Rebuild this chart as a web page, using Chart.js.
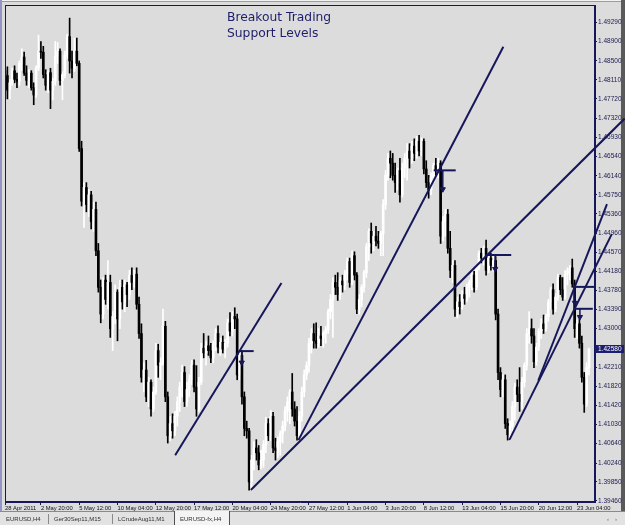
<!DOCTYPE html>
<html>
<head>
<meta charset="utf-8">
<script src="https://cdn.jsdelivr.net/npm/chart.js@4.4.1/dist/chart.umd.min.js"></script>
<style>
html, body { margin: 0; padding: 0; background: #dcdcdc; }
canvas { display: block; }
</style>
</head>
<body>
<canvas id="myChart" width="625" height="525"></canvas>
<script>
// EURUSD-fx H4 candles, bar 1 is the first visible bar (28 Apr 2011)
const opens = [
  1.4830,1.4820,1.4790,1.4805,1.4830,1.4812,1.4808,1.4845,1.4858,1.4825,
  1.4810,1.4825,1.4795,1.4780,1.4835,1.4870,1.4868,1.4822,1.4800,1.4826,
  1.4790,1.4808,1.4860,1.4870,1.4810,1.4822,1.4862,1.4900,1.4850,1.4835,
  1.4870,1.4845,1.4670,1.4562,1.4590,1.4555,1.4575,1.4520,1.4545,1.4460,
  1.4385,1.4330,1.4400,1.4360,1.4395,1.4300,1.4325,1.4375,1.4320,1.4385,
  1.4355,1.4390,1.4370,1.4410,1.4395,1.4412,1.4350,1.4290,1.4200,1.4215,
  1.4160,1.4190,1.4135,1.4170,1.4255,1.4225,1.4230,1.4305,1.4160,1.4080,
  1.4105,1.4090,1.4120,1.4150,1.4180,1.4210,1.4150,1.4175,1.4195,1.4225,
  1.4180,1.4135,1.4190,1.4260,1.4250,1.4265,1.4255,1.4240,1.4268,1.4290,
  1.4262,1.4272,1.4258,1.4270,1.4312,1.4295,1.4325,1.4320,1.4205,1.4245,
  1.4160,1.4095,1.4090,1.3985,1.4030,1.4055,1.4045,1.4020,1.4030,1.4062,
  1.4105,1.4080,1.4120,1.4055,1.4050,1.4068,1.4085,1.4100,1.4130,1.4150,
  1.4170,1.4135,1.4110,1.4080,1.4120,1.4170,1.4205,1.4225,1.4270,1.4290,
  1.4275,1.4270,1.4285,1.4280,1.4290,1.4298,1.4335,1.4360,1.4395,1.4385,
  1.4370,1.4398,1.4390,1.4412,1.4438,1.4395,1.4450,1.4410,1.4340,1.4360,
  1.4385,1.4415,1.4468,1.4500,1.4476,1.4490,1.4480,1.4475,1.4495,1.4555,
  1.4615,1.4650,1.4640,1.4615,1.4600,1.4625,1.4575,1.4630,1.4650,1.4665,
  1.4650,1.4675,1.4660,1.4685,1.4665,1.4685,1.4628,1.4600,1.4585,1.4610,
  1.4635,1.4625,1.4640,1.4490,1.4520,1.4535,1.4465,1.4420,1.4430,1.4340,
  1.4355,1.4345,1.4370,1.4362,1.4385,1.4395,1.4410,1.4385,1.4425,1.4455,
  1.4445,1.4465,1.4420,1.4445,1.4430,1.4440,1.4330,1.4210,1.4175,1.4195,
  1.4105,1.4082,1.4100,1.4140,1.4180,1.4165,1.4150,1.4190,1.4225,1.4290,
  1.4300,1.4285,1.4232,1.4262,1.4295,1.4310,1.4300,1.4325,1.4355,1.4380,
  1.4340,1.4365,1.4405,1.4380,1.4365,1.4412,1.4418,1.4425,1.4392,1.4300,
  1.4310,1.4270,1.4200,1.4145,1.4220
];
const highs = [
  1.4845,1.4838,1.4812,1.4835,1.4840,1.4825,1.4850,1.4875,1.4868,1.4840,
  1.4832,1.4830,1.4805,1.4840,1.4903,1.4890,1.4880,1.4832,1.4830,1.4835,
  1.4815,1.4890,1.4888,1.4875,1.4828,1.4870,1.4905,1.4938,1.4870,1.4897,
  1.4897,1.4850,1.4685,1.4600,1.4600,1.4586,1.4582,1.4560,1.4560,1.4475,
  1.4400,1.4405,1.4410,1.4440,1.4410,1.4335,1.4390,1.4380,1.4400,1.4400,
  1.4400,1.4395,1.4420,1.4425,1.4420,1.4425,1.4365,1.4310,1.4230,1.4235,
  1.4200,1.4195,1.4180,1.4270,1.4268,1.4240,1.4340,1.4315,1.4170,1.4120,
  1.4125,1.4130,1.4160,1.4190,1.4225,1.4222,1.4190,1.4205,1.4235,1.4236,
  1.4224,1.4200,1.4270,1.4290,1.4275,1.4285,1.4270,1.4275,1.4300,1.4306,
  1.4280,1.4285,1.4278,1.4320,1.4333,1.4335,1.4343,1.4330,1.4260,1.4255,
  1.4170,1.4110,1.4095,1.4040,1.4068,1.4072,1.4060,1.4050,1.4070,1.4118,
  1.4115,1.4132,1.4128,1.4075,1.4078,1.4090,1.4110,1.4140,1.4160,1.4175,
  1.4208,1.4150,1.4140,1.4130,1.4180,1.4215,1.4232,1.4280,1.4300,1.4310,
  1.4312,1.4300,1.4305,1.4295,1.4305,1.4340,1.4370,1.4405,1.4410,1.4415,
  1.4405,1.4410,1.4420,1.4445,1.4445,1.4460,1.4458,1.4415,1.4370,1.4390,
  1.4420,1.4475,1.4505,1.4517,1.4500,1.4510,1.4500,1.4500,1.4565,1.4625,
  1.4660,1.4665,1.4660,1.4640,1.4630,1.4650,1.4640,1.4660,1.4680,1.4680,
  1.4685,1.4690,1.4695,1.4697,1.4692,1.4690,1.4645,1.4615,1.4620,1.4640,
  1.4650,1.4650,1.4645,1.4530,1.4545,1.4545,1.4500,1.4440,1.4440,1.4365,
  1.4370,1.4378,1.4385,1.4392,1.4400,1.4418,1.4418,1.4430,1.4460,1.4465,
  1.4470,1.4482,1.4455,1.4455,1.4450,1.4448,1.4340,1.4220,1.4205,1.4205,
  1.4115,1.4110,1.4150,1.4188,1.4195,1.4220,1.4200,1.4230,1.4300,1.4335,
  1.4320,1.4300,1.4270,1.4300,1.4320,1.4328,1.4330,1.4360,1.4385,1.4392,
  1.4372,1.4412,1.4410,1.4405,1.4420,1.4425,1.4430,1.4443,1.4400,1.4318,
  1.4320,1.4285,1.4210,1.4230,1.4260
];
const lows = [
  1.4790,1.4772,1.4772,1.4800,1.4805,1.4795,1.4800,1.4830,1.4820,1.4800,
  1.4795,1.4790,1.4760,1.4775,1.4830,1.4855,1.4815,1.4790,1.4785,1.4752,
  1.4770,1.4800,1.4845,1.4800,1.4770,1.4815,1.4855,1.4825,1.4815,1.4828,
  1.4840,1.4664,1.4552,1.4508,1.4540,1.4530,1.4505,1.4500,1.4450,1.4375,
  1.4312,1.4320,1.4350,1.4340,1.4282,1.4255,1.4310,1.4275,1.4300,1.4340,
  1.4335,1.4345,1.4360,1.4380,1.4385,1.4340,1.4280,1.4190,1.4170,1.4150,
  1.4140,1.4120,1.4130,1.4165,1.4200,1.4195,1.4225,1.4150,1.4065,1.4070,
  1.4075,1.4080,1.4100,1.4130,1.4160,1.4140,1.4140,1.4160,1.4185,1.4170,
  1.4120,1.4130,1.4185,1.4240,1.4225,1.4245,1.4230,1.4230,1.4255,1.4250,
  1.4245,1.4250,1.4240,1.4262,1.4285,1.4285,1.4300,1.4195,1.4195,1.4145,
  1.4080,1.4075,1.3968,1.3968,1.4010,1.4030,1.4010,1.4012,1.4015,1.4045,
  1.4070,1.4070,1.4045,1.4030,1.4035,1.4040,1.4065,1.4090,1.4110,1.4105,
  1.4120,1.4100,1.4071,1.4072,1.4110,1.4160,1.4195,1.4210,1.4250,1.4260,
  1.4260,1.4262,1.4265,1.4262,1.4270,1.4290,1.4320,1.4282,1.4370,1.4358,
  1.4360,1.4375,1.4380,1.4400,1.4385,1.4390,1.4400,1.4331,1.4330,1.4345,
  1.4375,1.4405,1.4440,1.4455,1.4460,1.4470,1.4465,1.4450,1.4450,1.4545,
  1.4605,1.4610,1.4605,1.4580,1.4585,1.4560,1.4570,1.4610,1.4605,1.4630,
  1.4640,1.4645,1.4650,1.4655,1.4655,1.4618,1.4590,1.4568,1.4575,1.4600,
  1.4615,1.4610,1.4475,1.4480,1.4490,1.4455,1.4405,1.4395,1.4325,1.4322,
  1.4330,1.4340,1.4350,1.4355,1.4365,1.4380,1.4375,1.4380,1.4420,1.4435,
  1.4430,1.4410,1.4415,1.4420,1.4418,1.4318,1.4195,1.4160,1.4160,1.4095,
  1.4071,1.4070,1.4090,1.4112,1.4150,1.4130,1.4135,1.4180,1.4215,1.4270,
  1.4270,1.4220,1.4225,1.4255,1.4280,1.4290,1.4295,1.4315,1.4340,1.4330,
  1.4335,1.4358,1.4370,1.4358,1.4360,1.4390,1.4400,1.4385,1.4282,1.4280,
  1.4260,1.4190,1.4128,1.4140,1.4205
];
const closes = [
  1.4820,1.4790,1.4805,1.4830,1.4812,1.4808,1.4845,1.4858,1.4825,1.4810,
  1.4825,1.4795,1.4780,1.4835,1.4870,1.4868,1.4822,1.4800,1.4826,1.4790,
  1.4808,1.4860,1.4870,1.4810,1.4822,1.4862,1.4900,1.4850,1.4835,1.4870,
  1.4845,1.4670,1.4562,1.4590,1.4555,1.4575,1.4520,1.4545,1.4460,1.4385,
  1.4330,1.4400,1.4360,1.4395,1.4300,1.4325,1.4375,1.4320,1.4385,1.4355,
  1.4390,1.4370,1.4410,1.4395,1.4412,1.4350,1.4290,1.4200,1.4215,1.4160,
  1.4190,1.4135,1.4170,1.4255,1.4225,1.4230,1.4305,1.4160,1.4080,1.4105,
  1.4090,1.4120,1.4150,1.4180,1.4210,1.4150,1.4175,1.4195,1.4225,1.4180,
  1.4135,1.4190,1.4260,1.4250,1.4265,1.4255,1.4240,1.4268,1.4290,1.4262,
  1.4272,1.4258,1.4270,1.4312,1.4295,1.4325,1.4320,1.4205,1.4245,1.4160,
  1.4095,1.4090,1.3985,1.4030,1.4055,1.4045,1.4020,1.4030,1.4062,1.4105,
  1.4080,1.4120,1.4055,1.4050,1.4068,1.4085,1.4100,1.4130,1.4150,1.4170,
  1.4135,1.4110,1.4080,1.4120,1.4170,1.4205,1.4225,1.4270,1.4290,1.4275,
  1.4270,1.4285,1.4280,1.4290,1.4298,1.4335,1.4360,1.4395,1.4385,1.4370,
  1.4398,1.4390,1.4412,1.4438,1.4395,1.4450,1.4410,1.4340,1.4360,1.4385,
  1.4415,1.4468,1.4500,1.4476,1.4490,1.4480,1.4475,1.4495,1.4555,1.4615,
  1.4650,1.4640,1.4615,1.4600,1.4625,1.4575,1.4630,1.4650,1.4665,1.4650,
  1.4675,1.4660,1.4685,1.4665,1.4685,1.4628,1.4600,1.4585,1.4610,1.4635,
  1.4625,1.4640,1.4490,1.4520,1.4535,1.4465,1.4420,1.4430,1.4340,1.4355,
  1.4345,1.4370,1.4362,1.4385,1.4395,1.4410,1.4385,1.4425,1.4455,1.4445,
  1.4465,1.4420,1.4445,1.4430,1.4440,1.4330,1.4210,1.4175,1.4195,1.4105,
  1.4082,1.4100,1.4140,1.4180,1.4165,1.4150,1.4190,1.4225,1.4290,1.4300,
  1.4285,1.4232,1.4262,1.4295,1.4310,1.4300,1.4325,1.4355,1.4380,1.4340,
  1.4365,1.4405,1.4380,1.4365,1.4412,1.4418,1.4425,1.4392,1.4300,1.4310,
  1.4270,1.4200,1.4145,1.4220,1.4258
];

// time labels, one every 16 bars (first one at bar 1)
const xTickLabels = ['28 Apr 2011', '2 May 20:00', '5 May 12:00', '10 May 04:00', '12 May 20:00',
  '17 May 12:00', '20 May 04:00', '24 May 20:00', '27 May 12:00', '1 Jun 04:00', '3 Jun 20:00',
  '8 Jun 12:00', '13 Jun 04:00', '15 Jun 20:00', '20 Jun 12:00', '23 Jun 04:00'];
const yTickLabels = [1.39460, 1.39850, 1.40240, 1.40640, 1.41030, 1.41420, 1.41820, 1.42210, 1.42600,
  1.43000, 1.43390, 1.43780, 1.44180, 1.44570, 1.44960, 1.45360, 1.45750, 1.46140, 1.46540,
  1.46930, 1.47320, 1.47720, 1.48110, 1.48500, 1.48900, 1.49290];

// hand drawn trend lines: [bar, price, bar, price]
const trendLines = [
  [72.1, 1.4040, 116.5, 1.4394],
  [103.7, 1.39685, 259.9, 1.47316],
  [123.6, 1.4071, 209.2, 1.4879],
  [211.7, 1.4071, 254.5, 1.44943],
  [223.8, 1.41935, 252.5, 1.45557]
];
// breakout marks: [bar from, bar to, level, arrow bar, arrow tip price]
const breakMarks = [
  [98.7, 104.9, 1.42539, 99.9, 1.42303],
  [180.1, 189.3, 1.46252, 183.9, 1.45864],
  [201.7, 212.5, 1.44513, 205.8, 1.44227],
  [238.3, 247.5, 1.43858, 239.1, 1.43531],
  [238.7, 246.6, 1.43408, 241.2, 1.43240]
];

const titleLines = ['Breakout Trading', 'Support Levels'];
const tabNames = ['EURUSD,H4', 'Ger30Sep11,M15', 'LCrudeAug11,M1', 'EURUSD-fx,H4'];

const NAVY = '#16165a';

var candleColors = opens.map((o, i) => closes[i] >= o ? '#ffffff' : '#000000');
var wickData = opens.map((o, i) => ({ x: i + 1, y: [lows[i], highs[i]] }));
var bodyData = opens.map((o, i) => ({ x: i + 1, y: [Math.min(o, closes[i]), Math.max(o, closes[i])] }));

var datasets = [];
trendLines.forEach(function (t) {
    datasets.push({
        type: 'line', data: [{ x: t[0], y: t[1] }, { x: t[2], y: t[3] }],
        borderColor: NAVY, borderWidth: 2, pointRadius: 0, clip: false, order: 1
    });
});
breakMarks.forEach(function (m) {
    datasets.push({
        type: 'line', data: [{ x: m[0], y: m[2] }, { x: m[1], y: m[2] }],
        borderColor: NAVY, borderWidth: 2, pointRadius: 0, clip: false, order: 1
    });
    datasets.push({
        type: 'line', data: [{ x: m[3], y: m[2] }, { x: m[3], y: m[4] }],
        borderColor: NAVY, borderWidth: 1.5, clip: false, order: 1,
        pointRadius: [0, 3], pointStyle: 'triangle', pointRotation: 180,
        pointBackgroundColor: NAVY, pointBorderColor: NAVY, pointBorderWidth: 1
    });
});
datasets.push({
    type: 'bar', data: bodyData, backgroundColor: candleColors,
    barThickness: 2, grouped: false, borderWidth: 0, order: 2
});
datasets.push({
    type: 'bar', data: wickData, backgroundColor: candleColors,
    barThickness: 1, grouped: false, borderWidth: 0, order: 3
});

// window frame, tabs, title and current price box
const framePlugin = {
    id: 'frame',
    beforeDraw(chart) {
        const c = chart.ctx;
        c.save();
        c.fillStyle = '#dcdcdc';
        c.fillRect(0, 0, 625, 525);
        c.fillStyle = '#f2f2f2';
        c.fillRect(0, 0, 625, 1);
        c.fillStyle = '#9c9c9c';
        c.fillRect(0, 1, 625, 1);
        c.fillStyle = '#9494c6';
        c.fillRect(0, 0, 2, 511);
        c.fillStyle = '#5a5a5a';
        c.fillRect(621, 0, 4, 511);

        // tab strip
        c.fillStyle = '#e2e2e2';
        c.fillRect(0, 511, 625, 14);
        c.fillStyle = '#8a8a8a';
        c.fillRect(0, 511, 174, 1);
        c.fillRect(229, 511, 396, 1);
        c.fillStyle = '#f4f4f4';
        c.fillRect(174, 511, 55, 14);
        c.fillStyle = '#505050';
        c.fillRect(174, 511, 1, 14);
        c.fillRect(229, 511, 1, 14);
        c.font = '6px "Liberation Sans"';
        c.textBaseline = 'middle';
        c.fillStyle = '#303030';
        var tabX = [6, 54, 118, 180];
        tabNames.forEach((t, i) => c.fillText(t, tabX[i], 519));
        c.fillStyle = '#8a8a8a';
        c.fillRect(48, 514, 1, 10);
        c.fillRect(112, 514, 1, 10);
        c.fillStyle = '#606060';
        c.fillText('\u2039', 607, 519);
        c.fillText('\u203a', 615, 519);
        c.restore();
    },
    afterDraw(chart) {
        const c = chart.ctx;
        const a = chart.chartArea;
        c.save();
        c.strokeStyle = NAVY;
        c.lineWidth = 1;
        c.strokeRect(a.left + 0.5, a.top + 0.5, a.right - a.left - 1, a.bottom - a.top - 1);

        c.fillStyle = '#1e1e6a';
        c.font = '12.3px "DejaVu Sans"';
        c.textBaseline = 'alphabetic';
        c.fillText(titleLines[0], 227, 20.7);
        c.fillText(titleLines[1], 227, 36.7);

        var last = closes[closes.length - 1];
        var py = chart.scales.y.getPixelForValue(last);
        c.fillStyle = '#1c1c70';
        c.fillRect(595, Math.round(py) - 4, 29, 8);
        c.fillStyle = '#ffffff';
        c.font = '6.5px "Liberation Sans"';
        c.textBaseline = 'middle';
        c.fillText(last.toFixed(5), 598, Math.round(py));
        c.restore();
    }
};

var ctx = document.getElementById('myChart').getContext('2d');
var chart = new Chart(ctx, {
    type: 'bar',
    data: { datasets: datasets },
    options: {
        responsive: false,
        animation: false,
        devicePixelRatio: 1,
        events: [],
        layout: { padding: { left: 2, top: 3, right: 0, bottom: 0 } },
        plugins: { legend: { display: false }, tooltip: { enabled: false } },
        scales: {
            x: {
                type: 'linear', min: 1, max: 247.5, offset: false,
                grid: { display: true, drawOnChartArea: false, drawTicks: true, tickLength: 3, color: NAVY, offset: false },
                border: { display: true, color: NAVY },
                afterBuildTicks: s => { s.ticks = xTickLabels.map((l, k) => ({ value: k === 0 ? 1 : k * 16 })); },
                afterFit: s => { s.height = 23; },
                ticks: {
                    autoSkip: false, maxRotation: 0, minRotation: 0, align: 'start', padding: 0,
                    color: '#101010', font: { family: 'Liberation Sans', size: 5.8 },
                    callback: (v, i) => xTickLabels[i]
                }
            },
            y: {
                position: 'right', min: 1.39439, max: 1.49649,
                grid: { drawOnChartArea: false, tickLength: 2, color: NAVY },
                border: { display: true, color: NAVY },
                afterBuildTicks: s => { s.ticks = yTickLabels.map(v => ({ value: v })); },
                afterFit: s => { s.width = 30; },
                ticks: {
                    autoSkip: false, padding: 1, color: '#1a1a50',
                    font: { family: 'Liberation Sans', size: 6.5 },
                    callback: v => v.toFixed(5)
                }
            }
        }
    },
    plugins: [framePlugin]
});
</script>
</body>
</html>
